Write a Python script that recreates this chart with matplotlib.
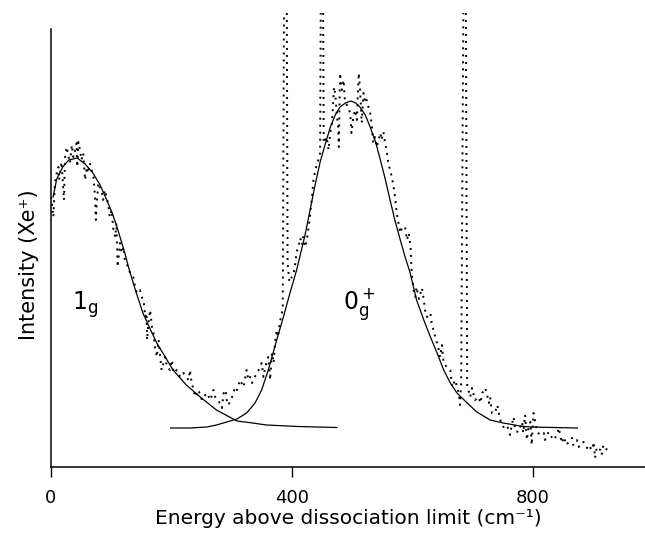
import matplotlib
matplotlib.use("Agg")
import matplotlib.pyplot as plt

# experimental Xe+ signal (dotted trace); 600 = off-scale spikes
energy_exp = [0.5, 2.7, 4.4, 7, 10, 12.7, 13.8, 18, 21, 22, 24, 26.5, 29, 32, 35, 37.6, 40, 43, 44, 46,
              48.6, 51, 54, 57, 60, 62, 65, 68, 71, 73.5, 75, 76, 79, 82, 85, 87, 90, 93, 96, 98,
              101, 104, 107, 109, 111, 115, 118, 121, 123, 126, 129, 137, 140, 143, 148, 151, 154, 157, 159, 160,
              162, 165, 168, 170, 173, 176, 179, 181, 184, 190, 193, 198, 201, 204, 209, 215, 220, 229, 231, 234,
              237, 240, 245, 251, 254, 259, 265, 270, 273, 278, 284, 287, 290, 292, 295, 301, 306, 309, 314, 320,
              325, 328, 331, 334, 336, 342, 348, 350, 353, 356, 361, 364, 367, 370, 372, 375, 377, 380, 382, 385,
              388, 391, 393, 396, 400, 403, 405, 408, 411, 414, 417, 419, 422, 425, 428, 430, 433, 436, 439, 444,
              447, 449, 451, 453, 458, 461, 464, 466, 468, 470, 472, 475, 477, 478, 480, 483, 486, 488, 497, 499,
              502, 505, 508, 511, 513, 516, 519, 522, 524, 530, 533, 535, 538, 541, 547, 549, 552, 555, 558, 560,
              563, 566, 569, 572, 574, 577, 580, 583, 588, 591, 594, 597, 598, 599, 602, 605, 607, 611, 616, 619,
              621, 624, 630, 632, 635, 638, 643, 646, 649, 652, 657, 663, 666, 671, 677, 679, 681, 686, 688, 691,
              693, 696, 699, 704, 710, 713, 716, 721, 724, 727, 729, 732, 737, 741, 743, 746, 751, 757, 762, 765,
              768, 771, 776, 782, 784, 787, 790, 793, 796, 798, 801, 804, 807, 812, 818, 820, 826, 831, 834, 840,
              843, 848, 851, 856, 859, 865, 867, 873, 876, 879, 884, 890, 892, 898, 901, 903, 906, 912, 914, 917,
              923]
intensity_exp = [270, 260, 250, 284, 294, 300, 287, 305, 277, 267, 312, 320, 312, 304, 322, 310, 315, 324, 300, 325,
                 317, 307, 314, 287, 300, 294, 304, 297, 290, 270, 247, 260, 284, 279, 274, 267, 277, 270, 260, 250,
                 257, 237, 230, 244, 200, 224, 214, 220, 207, 204, 197, 190, 180, 174, 177, 170, 167, 150, 154, 127,
                 144, 157, 140, 137, 120, 110, 127, 114, 97, 110, 100, 97, 107, 94, 97, 90, 94, 87, 97, 84,
                 77, 70, 77, 67, 70, 74, 67, 77, 70, 67, 59, 74, 77, 67, 62, 70, 80, 77, 87, 80,
                 97, 87, 90, 84, 87, 94, 100, 104, 90, 100, 110, 87, 114, 104, 124, 137, 130, 144, 150, 158,
                 600, 600, 205, 185, 190, 194, 200, 215, 220, 229, 222, 230, 220, 227, 240, 250, 267, 287, 297, 307,
                 314, 600, 600, 324, 330, 317, 335, 340, 357, 380, 374, 350, 340, 320, 394, 377, 387, 367, 354, 334,
                 350, 357, 347, 394, 380, 344, 374, 364, 367, 354, 340, 324, 330, 320, 334, 327, 335, 324, 314, 304,
                 297, 290, 280, 267, 254, 244, 234, 240, 240, 227, 234, 220, 207, 194, 177, 170, 180, 168, 179, 167,
                 157, 150, 154, 144, 137, 130, 120, 110, 122, 104, 100, 97, 80, 87, 74, 62, 84, 600, 600, 80,
                 77, 70, 79, 67, 70, 64, 74, 79, 72, 64, 70, 54, 54, 62, 55, 47, 40, 42, 32, 42,
                 50, 36, 35, 45, 34, 52, 27, 40, 45, 22, 54, 45, 35, 32, 34, 27, 35, 30, 27, 32,
                 39, 24, 30, 22, 25, 29, 22, 27, 20, 24, 25, 19, 22, 17, 25, 9, 20, 17, 12, 22,
                 17]

# fitted 1g component
fit1_energy = [4, 10, 20, 30, 44, 57, 70, 82, 93, 102, 110, 118, 123, 129, 141, 153, 165, 176, 190, 203,
               225, 248, 275, 309, 335, 358, 410, 475]
fit1_intensity = [270, 288, 300, 307, 309, 303, 294, 282, 267, 254, 240, 224, 214, 200, 176, 154, 138, 124, 110, 97,
                  82, 70, 57, 46, 44, 42, 40.5, 39.5]

# fitted 0g+ component
fit2_energy = [199, 231, 259, 275, 292, 309, 325, 339, 350, 361, 375, 386, 397, 408, 414, 422, 430, 439, 447, 456,
               464, 472, 480, 489, 498, 506, 513, 522, 530, 539, 547, 555, 563, 571, 580, 588, 596, 607, 619, 630,
               641, 652, 663, 674, 691, 707, 729, 751, 779, 796, 874]
fit2_intensity = [39, 39, 40, 42, 45, 48, 54, 64, 77, 97, 127, 150, 174, 197, 212, 232, 256, 283, 305, 324,
                  340, 352, 360, 364, 366, 364, 360, 352, 340, 325, 307, 288, 267, 247, 227, 210, 195, 167, 147, 130,
                  114, 97, 84, 74, 64, 55, 47, 44, 41, 40, 39]

x_ticks = [0, 400, 800]

fig = plt.figure(figsize=(6.45, 5.33), dpi=100)
ax = fig.add_axes([50.7 / 645, 66 / 533, (645 - 50.7) / 645, (467 - 13) / 533])

ax.plot(energy_exp, intensity_exp, color="black", lw=1.4, dashes=(1.0, 2.6))
ax.plot(fit1_energy, fit1_intensity, color="black", lw=0.9)
ax.plot(fit2_energy, fit2_intensity, color="black", lw=0.9)

ax.text(35, 157, r"$\mathregular{1_g}$", fontsize=17, ha="left", va="baseline")
ax.text(485, 157, r"$\mathregular{0_g^+}$", fontsize=17, ha="left", va="baseline")

ax.set_xlim(0, 986)
ax.set_ylim(0, 454)
ax.spines["top"].set_visible(False)
ax.spines["right"].set_visible(False)
ax.spines["left"].set_bounds(0, 438)
ax.spines["left"].set_linewidth(1.1)
ax.spines["bottom"].set_linewidth(1.1)

ax.set_xticks(x_ticks)
ax.set_xticklabels([str(t) for t in x_ticks])
ax.set_yticks([])
ax.tick_params(axis="x", direction="out", length=7, width=1, pad=9, labelsize=13)

ax.set_xlabel("Energy above dissociation limit (cm⁻¹)", fontsize=14.5)
ax.xaxis.set_label_coords(0.5, -0.092)
ax.set_ylabel("Intensity (Xe⁺)", fontsize=15)
ax.yaxis.set_label_coords(-0.02, 0.445)

fig.savefig("out.png", dpi=100)
